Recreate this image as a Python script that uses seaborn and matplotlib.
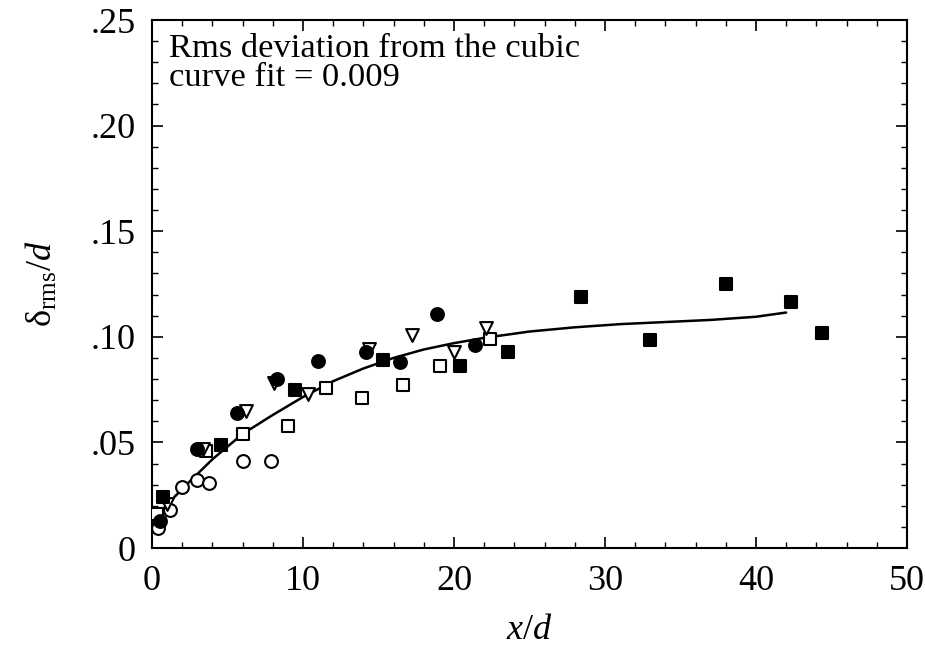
import matplotlib
matplotlib.use("Agg")
import matplotlib.pyplot as plt
import seaborn as sns
import pandas as pd
from matplotlib.ticker import MultipleLocator

sns.set_theme(style="ticks")
plt.rcParams['font.family'] = ['Liberation Serif', 'DejaVu Serif']
plt.rcParams['mathtext.fontset'] = 'custom'
plt.rcParams['mathtext.rm'] = 'Liberation Serif'
plt.rcParams['mathtext.it'] = 'Liberation Serif:italic'
plt.rcParams['text.color'] = 'black'
plt.rcParams['axes.labelcolor'] = 'black'
plt.rcParams['xtick.color'] = 'black'
plt.rcParams['ytick.color'] = 'black'

# ---- data ----
fsq_x = [0.75, 4.6, 9.5, 15.3, 20.4, 23.6, 28.4, 33.0, 38.0, 42.3, 44.4]
fsq_y = [0.024, 0.049, 0.075, 0.089, 0.086, 0.093, 0.119, 0.0985, 0.125, 0.1165, 0.102]

osq_x = [0.3, 3.6, 6.0, 9.0, 11.5, 13.9, 16.6, 19.1, 22.4]
osq_y = [0.016, 0.046, 0.054, 0.058, 0.076, 0.071, 0.077, 0.086, 0.099]

fci_x = [0.55, 3.0, 5.6, 8.3, 11.0, 14.2, 16.4, 18.9, 21.4]
fci_y = [0.013, 0.047, 0.064, 0.080, 0.0885, 0.093, 0.088, 0.111, 0.096]

oci_x = [0.4, 1.2, 2.0, 3.0, 3.8, 6.0, 7.9]
oci_y = [0.0095, 0.018, 0.029, 0.032, 0.031, 0.041, 0.041]

otr_x = [1.0, 3.4, 6.2, 8.1, 10.3, 14.4, 17.2, 20.0, 22.1]
otr_y = [0.021, 0.047, 0.065, 0.078, 0.073, 0.094, 0.101, 0.093, 0.104]

fit_x = [0.3, 1, 2, 3, 4, 5, 6, 8, 10, 12, 14, 16, 18, 20, 22, 25, 28, 31, 34, 37, 40, 42]
fit_y = [0.015, 0.0205, 0.028, 0.035, 0.042, 0.048, 0.054, 0.063, 0.0715, 0.079, 0.085,
         0.090, 0.094, 0.097, 0.0995, 0.1025, 0.1045, 0.106, 0.107, 0.108, 0.1095, 0.1115]

xticks = [0, 10, 20, 30, 40, 50]
yticks = [0, 0.05, 0.10, 0.15, 0.20, 0.25]
ytick_labels = ["0", ".05", ".10", ".15", ".20", ".25"]

fig = plt.figure(figsize=(9.25, 6.5), dpi=100)
ax = fig.add_axes([0.1643, 0.1569, 0.8162, 0.8123])

fit_df = pd.DataFrame({"x": fit_x, "y": fit_y})
sns.lineplot(data=fit_df, x="x", y="y", ax=ax, color="black", lw=1.8, sort=True,
             estimator=None, zorder=2)

ms = 85
lw = 1.5
series = [
    (osq_x, osq_y, "s", "white"),
    (oci_x, oci_y, "o", "white"),
    (otr_x, otr_y, "v", "white"),
    (fci_x, fci_y, "o", "black"),
    (fsq_x, fsq_y, "s", "black"),
]
for xs, ys, mk, fc in series:
    df = pd.DataFrame({"x": xs, "y": ys})
    sns.scatterplot(data=df, x="x", y="y", ax=ax, marker=mk, s=ms,
                    facecolor=fc, edgecolor="black", linewidth=lw, zorder=3)

ax.set_xlim(0, 50)
ax.set_ylim(0, 0.25)
ax.set_xticks(xticks)
ax.set_xticklabels([str(t) for t in xticks])
ax.set_yticks(yticks)
ax.set_yticklabels(ytick_labels)
ax.xaxis.set_minor_locator(MultipleLocator(2))
ax.yaxis.set_minor_locator(MultipleLocator(0.01))
ax.tick_params(which="both", direction="in", top=True, right=True, colors="black",
               labelcolor="black", labelsize=26, pad=12)
ax.tick_params(which="major", length=8, width=1.2)
ax.tick_params(which="minor", length=4, width=1.0)
for sp in ax.spines.values():
    sp.set_linewidth(1.5)
    sp.set_color("black")

ax.set_xlabel(r"$x/d$", fontsize=26, labelpad=12, color="black")
ax.set_ylabel(r"δ$_{\rm rms}$/$d$", fontsize=26, labelpad=22, color="black")

ax.text(0.022, 0.975, "Rms deviation from the cubic\ncurve fit = 0.009",
        transform=ax.transAxes, ha="left", va="top", fontsize=24.8, linespacing=0.95,
        color="black")

fig.savefig("out.png", dpi=100)
